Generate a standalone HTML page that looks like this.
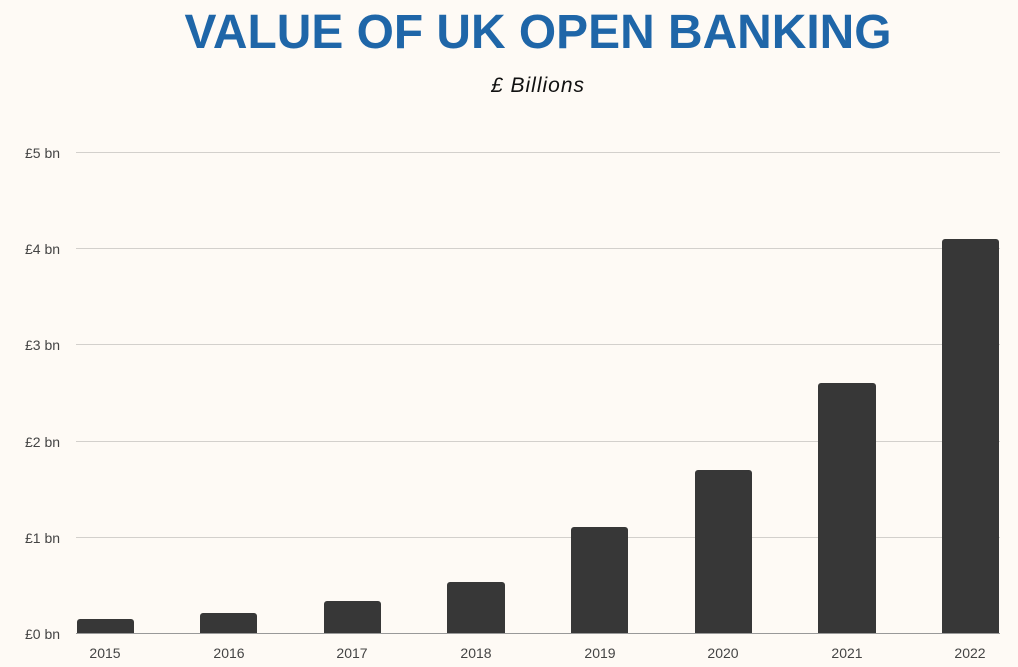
<!DOCTYPE html>
<html><head><meta charset="utf-8"><style>
html,body{margin:0;padding:0;background:#fefaf5;}
svg{display:block}
</style></head><body>
<svg width="1018" height="667" viewBox="0 0 1018 667" xmlns="http://www.w3.org/2000/svg">
<rect width="1018" height="667" fill="#fefaf5"/>
<text x="538" y="48" text-anchor="middle" font-family="Liberation Sans, sans-serif" font-weight="bold" font-size="48" fill="#1f66a8" textLength="707" lengthAdjust="spacingAndGlyphs">VALUE OF UK OPEN BANKING</text>
<text x="538" y="92" text-anchor="middle" font-family="Liberation Sans, sans-serif" font-style="italic" font-size="21" fill="#111" letter-spacing="1">£ Billions</text>
<g stroke="#d3d0cc" stroke-width="1">
<line x1="76" y1="152.5" x2="1000" y2="152.5"/>
<line x1="76" y1="248.5" x2="1000" y2="248.5"/>
<line x1="76" y1="344.5" x2="1000" y2="344.5"/>
<line x1="76" y1="441.5" x2="1000" y2="441.5"/>
<line x1="76" y1="537.5" x2="1000" y2="537.5"/>
</g>
<g font-family="Liberation Sans, sans-serif" font-size="14" fill="#444">
<text x="25" y="158">£5 bn</text>
<text x="25" y="254">£4 bn</text>
<text x="25" y="350">£3 bn</text>
<text x="25" y="447">£2 bn</text>
<text x="25" y="543">£1 bn</text>
<text x="25" y="639">£0 bn</text>
</g>
<g fill="#373737">
<rect x="77" y="619" width="57" height="20" rx="3"/>
<rect x="200" y="613" width="57" height="26" rx="3"/>
<rect x="324" y="601" width="57" height="38" rx="3"/>
<rect x="447" y="582" width="58" height="57" rx="3"/>
<rect x="571" y="527" width="57" height="112" rx="3"/>
<rect x="695" y="470" width="57" height="169" rx="3"/>
<rect x="818" y="383" width="58" height="256" rx="3"/>
<rect x="942" y="239" width="57" height="400" rx="3"/>
</g>
<rect x="76" y="633" width="924" height="10" fill="#fefaf5"/>
<line x1="76" y1="633.5" x2="1000" y2="633.5" stroke="#999" stroke-width="1"/>
<g font-family="Liberation Sans, sans-serif" font-size="14" fill="#444" text-anchor="middle">
<text x="105" y="658">2015</text>
<text x="229" y="658">2016</text>
<text x="352" y="658">2017</text>
<text x="476" y="658">2018</text>
<text x="600" y="658">2019</text>
<text x="723" y="658">2020</text>
<text x="847" y="658">2021</text>
<text x="970" y="658">2022</text>
</g>
</svg>
</body></html>
